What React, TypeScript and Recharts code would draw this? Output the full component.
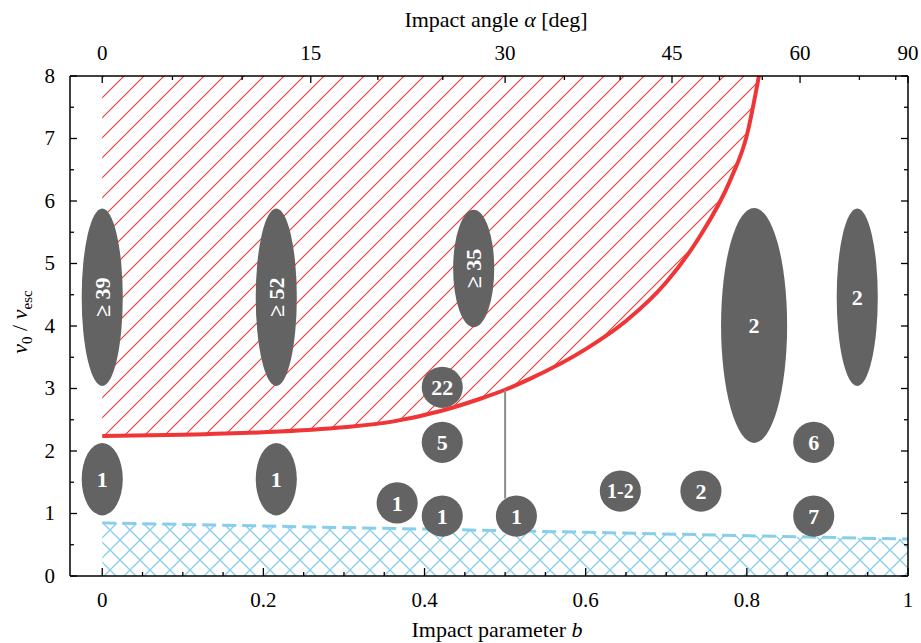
import React from 'react';
import { ComposedChart, Area, Line, XAxis, YAxis, ReferenceArea, ReferenceLine, Label } from 'recharts';

// red boundary curve v0/vesc vs impact parameter b
const curveB = [0, 0.1, 0.2, 0.3, 0.36, 0.42, 0.47, 0.5, 0.53, 0.6, 0.65, 0.7, 0.74, 0.78, 0.8, 0.815];
const curveV = [2.24, 2.26, 2.3, 2.38, 2.47, 2.64, 2.84, 2.98, 3.15, 3.63, 4.08, 4.7, 5.4, 6.35, 7.05, 8];
const V_TOP = 8;

// blue dashed lower limit
const limitB = [0, 0.2, 0.6, 1];
const limitV = [0.85, 0.8, 0.7, 0.59];

// gray blobs: number of runs, position (b, v) and the range they cover
const blobText = ['≥ 39', '≥ 52', '≥ 35', '22', '5', '1', '1', '1', '1', '1', '1-2', '2', '2', '2', '6', '7'];
const blobB = [0, 0.216, 0.461, 0.422, 0.422, 0, 0.216, 0.366, 0.422, 0.514, 0.643, 0.743, 0.809, 0.937, 0.883, 0.883];
const blobV = [4.46, 4.46, 4.92, 3.02, 2.14, 1.55, 1.55, 1.17, 0.96, 0.96, 1.36, 1.36, 4.01, 4.46, 2.14, 0.96];
const blobHalfB = [0.0255, 0.0255, 0.0255, 0.0255, 0.0255, 0.0255, 0.0255, 0.0255, 0.0255, 0.0255, 0.0255, 0.0255, 0.041, 0.0255, 0.0255, 0.0255];
const blobHalfV = [1.42, 1.42, 0.94, 0.33, 0.33, 0.58, 0.58, 0.33, 0.33, 0.33, 0.33, 0.33, 1.88, 1.42, 0.33, 0.33];
const blobRotated = [true, true, true, false, false, false, false, false, false, false, false, false, false, false, false, false];

// gray marker line at b = 0.5
const markB = 0.5;
const markV = [2.98, 1.24];

// axes
const bTicks = [0, 0.05, 0.1, 0.15, 0.2, 0.25, 0.3, 0.35, 0.4, 0.45, 0.5, 0.55, 0.6, 0.65, 0.7, 0.75, 0.8, 0.85, 0.9, 0.95, 1];
const bMajor = [0, 0.2, 0.4, 0.6, 0.8, 1];
const vTicks = [0, 0.5, 1, 1.5, 2, 2.5, 3, 3.5, 4, 4.5, 5, 5.5, 6, 6.5, 7, 7.5, 8];
const angleTicks = [0, 5, 10, 15, 20, 25, 30, 35, 40, 45, 50, 55, 60, 70, 80, 90];
const angleMajor = [0, 15, 30, 45, 60, 90];

const FONT = '"Liberation Serif", "Times New Roman", serif';
const RED = '#ef3535';
const BLUE = '#87ceeb';

const curveRows = curveB.map((b, i) => ({ b, v: curveV[i], band: [curveV[i], V_TOP] }));
const limitRows = limitB.map((b, i) => ({ b, v: limitV[i] }));
const angleToB = (a: number) => Math.sin((a * Math.PI) / 180);

const near = (a: number, list: number[]) => list.some((m) => Math.abs(m - a) < 1e-6);

const BottomTick = (props: any) => {
  const { x, y, payload } = props;
  const major = near(payload.value, bMajor);
  return (
    <g>
      <line x1={x} x2={x} y1={y} y2={y - (major ? 8 : 4)} stroke="#000" strokeWidth={1.3} />
      {major && (
        <text x={x} y={y + 31} textAnchor="middle" fontFamily={FONT} fontSize={21} fill="#000">
          {String(payload.value)}
        </text>
      )}
    </g>
  );
};

const TopTick = (props: any) => {
  const { x, y, payload } = props;
  const angle = Math.round((Math.asin(Math.min(1, payload.value)) * 180) / Math.PI);
  const major = near(angle, angleMajor);
  return (
    <g>
      <line x1={x} x2={x} y1={y} y2={y + (major ? 7 : 4)} stroke="#000" strokeWidth={1.3} />
      {major && (
        <text x={x} y={y - 16} textAnchor="middle" fontFamily={FONT} fontSize={21} fill="#000">
          {String(angle)}
        </text>
      )}
    </g>
  );
};

const LeftTick = (props: any) => {
  const { x, y, payload } = props;
  const major = Number.isInteger(payload.value);
  return (
    <g>
      <line x1={x} x2={x + (major ? 7 : 4)} y1={y} y2={y} stroke="#000" strokeWidth={1.3} />
      {major && (
        <text x={x - 15} y={y} dy="0.33em" textAnchor="end" fontFamily={FONT} fontSize={21} fill="#000">
          {String(payload.value)}
        </text>
      )}
    </g>
  );
};

const RightTick = (props: any) => {
  const { x, y, payload } = props;
  const major = Number.isInteger(payload.value);
  return <line x1={x} x2={x - (major ? 7 : 4)} y1={y} y2={y} stroke="#000" strokeWidth={1.3} />;
};

const Blob = (props: any) => {
  const { x, y, width, height, text, rotated } = props;
  const w = Math.abs(width);
  const h = Math.abs(height);
  const cx = x + w / 2;
  const cy = y + h / 2;
  return (
    <g>
      <ellipse cx={cx} cy={cy} rx={w / 2} ry={h / 2} fill="#636363" />
      <text
        x={cx}
        y={cy}
        dy="0.35em"
        textAnchor="middle"
        fill="#fff"
        fontWeight="bold"
        fontFamily={FONT}
        fontSize={text === '1-2' ? 20 : 22}
        transform={rotated ? `rotate(-90 ${cx} ${cy})` : undefined}
      >
        {text}
      </text>
    </g>
  );
};

const App: React.FC = () => {
  return (
    <div style={{ position: 'absolute', left: 0, top: 0 }}>
      <svg width={0} height={0} style={{ position: 'absolute' }}>
        <defs>
          <pattern id="redHatch" patternUnits="userSpaceOnUse" width={20} height={20}>
            <path d="M0,20 L20,0 M-5,5 L5,-5 M15,25 L25,15" stroke={RED} strokeWidth={1.1} />
          </pattern>
          <pattern id="blueCross" patternUnits="userSpaceOnUse" width={20} height={20}>
            <path
              d="M0,20 L20,0 M-5,5 L5,-5 M15,25 L25,15 M0,0 L20,20 M-5,15 L5,25 M15,-5 L25,5"
              stroke={BLUE}
              strokeWidth={1.3}
            />
          </pattern>
        </defs>
      </svg>
      <ComposedChart width={921} height={643} margin={{ top: 0, right: 0, bottom: 0, left: 0 }}>
        <XAxis
          dataKey="b"
          type="number"
          domain={[-0.04, 1]}
          allowDataOverflow
          ticks={bTicks}
          interval={0}
          tickSize={0}
          tickMargin={0}
          tickLine={false}
          tick={<BottomTick />}
          height={67}
          axisLine={{ stroke: '#000', strokeWidth: 1.5 }}
        >
          <Label
            content={(p: any) => {
              const vb = p.viewBox;
              return (
                <text x={vb.x + vb.width / 2 + 8} y={vb.y + 61} textAnchor="middle" fontFamily={FONT} fontSize={22}>
                  Impact parameter <tspan fontStyle="italic">b</tspan>
                </text>
              );
            }}
          />
        </XAxis>
        <XAxis
          xAxisId="top"
          dataKey="b"
          orientation="top"
          type="number"
          domain={[-0.04, 1]}
          allowDataOverflow
          ticks={angleTicks.map(angleToB)}
          interval={0}
          tickSize={0}
          tickMargin={0}
          tickLine={false}
          tick={<TopTick />}
          height={76}
          axisLine={{ stroke: '#000', strokeWidth: 1.5 }}
        >
          <Label
            content={(p: any) => {
              const vb = p.viewBox;
              return (
                <text x={vb.x + vb.width / 2 + 7} y={vb.y + 27} textAnchor="middle" fontFamily={FONT} fontSize={22}>
                  Impact angle <tspan fontStyle="italic">α</tspan> [deg]
                </text>
              );
            }}
          />
        </XAxis>
        <YAxis
          type="number"
          domain={[0, 8]}
          allowDataOverflow
          ticks={vTicks}
          interval={0}
          tickSize={0}
          tickMargin={0}
          tickLine={false}
          tick={<LeftTick />}
          width={70}
          axisLine={{ stroke: '#000', strokeWidth: 1.5 }}
        >
          <Label
            content={(p: any) => {
              const vb = p.viewBox;
              const lx = vb.x + 27;
              const ly = vb.y + vb.height / 2 - 4;
              return (
                <text x={lx} y={ly} textAnchor="middle" fontFamily={FONT} fontSize={22} transform={`rotate(-90 ${lx} ${ly})`}>
                  <tspan fontStyle="italic">v</tspan>
                  <tspan fontSize={15} dy={5}>0</tspan>
                  <tspan dy={-5}> / </tspan>
                  <tspan fontStyle="italic">v</tspan>
                  <tspan fontSize={15} dy={5}>esc</tspan>
                </text>
              );
            }}
          />
        </YAxis>
        <YAxis
          yAxisId="right"
          orientation="right"
          type="number"
          domain={[0, 8]}
          allowDataOverflow
          ticks={vTicks}
          interval={0}
          tickSize={0}
          tickMargin={0}
          tickLine={false}
          tick={<RightTick />}
          width={13}
          axisLine={{ stroke: '#000', strokeWidth: 1.5 }}
        />
        {/* invisible series so the top and right axes get their ticks */}
        <Line
          data={limitRows}
          xAxisId="top"
          yAxisId="right"
          dataKey="v"
          stroke="none"
          dot={false}
          activeDot={false}
          isAnimationActive={false}
        />
        <Area
          data={curveRows}
          dataKey="band"
          type="monotone"
          stroke="none"
          fill="url(#redHatch)"
          fillOpacity={1}
          isAnimationActive={false}
          dot={false}
          activeDot={false}
        />
        <Area
          data={limitRows}
          dataKey="v"
          type="linear"
          stroke={BLUE}
          strokeWidth={3}
          strokeDasharray="14 6"
          fill="url(#blueCross)"
          fillOpacity={1}
          isAnimationActive={false}
          dot={false}
          activeDot={false}
        />
        <Line
          data={curveRows}
          dataKey="v"
          type="monotone"
          stroke={RED}
          strokeWidth={4}
          dot={false}
          activeDot={false}
          isAnimationActive={false}
        />
        <ReferenceLine
          segment={[
            { x: markB, y: markV[0] },
            { x: markB, y: markV[1] },
          ]}
          stroke="#8c8c8c"
          strokeWidth={2}
        />
        {blobText.map((t, i) => (
          <ReferenceArea
            key={i}
            x1={blobB[i] - blobHalfB[i]}
            x2={blobB[i] + blobHalfB[i]}
            y1={blobV[i] - blobHalfV[i]}
            y2={blobV[i] + blobHalfV[i]}
            ifOverflow="visible"
            shape={(p: any) => <Blob {...p} text={t} rotated={blobRotated[i]} />}
          />
        ))}
      </ComposedChart>
    </div>
  );
};

export default App;
